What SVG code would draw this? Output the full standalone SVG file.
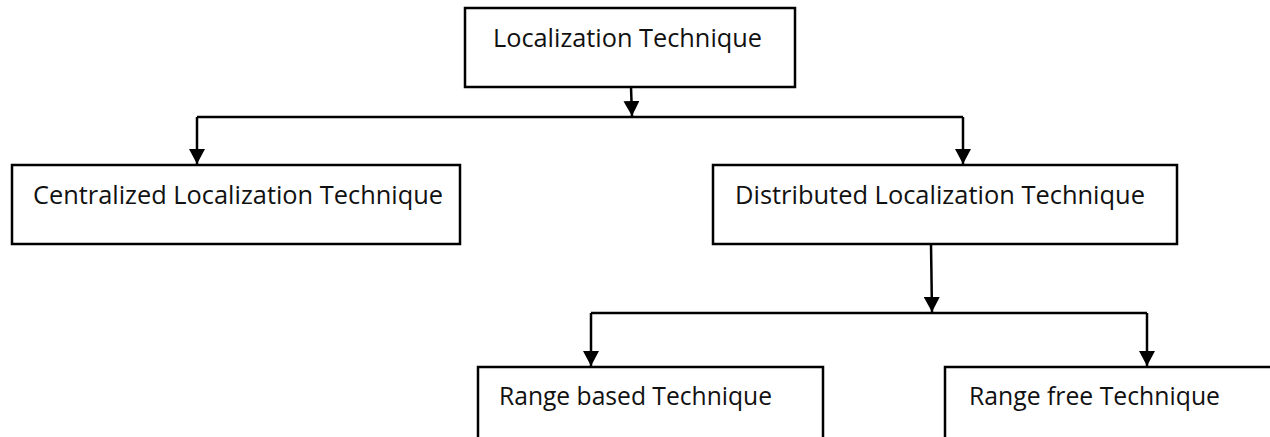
<svg xmlns="http://www.w3.org/2000/svg" width="1270" height="437" viewBox="0 0 1270 437">
  <style>
    .box { fill: #ffffff; stroke: #000000; stroke-width: 2.5; }
    .wire { fill: none; stroke: #000000; stroke-width: 2.5; }
    .label { font-family: "Open Sans", "Liberation Sans", sans-serif; font-size: 25px; fill: #111111; }
  </style>
  <defs>
    <!-- filled triangular head, tip at the end of the line -->
    <marker id="arrow" viewBox="0 0 15 16" refX="15" refY="8" markerWidth="15" markerHeight="16" markerUnits="userSpaceOnUse" orient="auto">
      <path d="M0,0 L15,8 L0,16 Z" fill="#000000"/>
    </marker>
  </defs>
  <rect width="1270" height="437" fill="#ffffff"/>

  <g id="node-root">
    <rect class="box" x="465" y="8" width="330" height="79"/>
    <text class="label" x="493" y="47" textLength="269" lengthAdjust="spacingAndGlyphs">Localization Technique</text>
  </g>

  <g id="node-centralized">
    <rect class="box" x="12" y="165" width="448" height="79"/>
    <text class="label" x="33" y="204" textLength="410" lengthAdjust="spacingAndGlyphs">Centralized Localization Technique</text>
  </g>

  <g id="node-distributed">
    <rect class="box" x="713" y="165" width="464" height="79"/>
    <text class="label" x="735" y="204" textLength="410" lengthAdjust="spacingAndGlyphs">Distributed Localization Technique</text>
  </g>

  <!-- the lower boxes run past the bottom edge of the canvas -->
  <g id="node-range-based">
    <rect class="box" x="478" y="367" width="345" height="100"/>
    <text class="label" x="499" y="405" textLength="273" lengthAdjust="spacingAndGlyphs">Range based Technique</text>
  </g>

  <g id="node-range-free">
    <rect class="box" x="945" y="367" width="360" height="100"/>
    <text class="label" x="969" y="405" textLength="251" lengthAdjust="spacingAndGlyphs">Range free Technique</text>
  </g>

  <g id="connectors">
    <!-- root down to the first bus -->
    <path class="wire" d="M631,87 L632,116" marker-end="url(#arrow)"/>
    <path class="wire" d="M197,117 L963,117"/>
    <path class="wire" d="M197,117 L197,164" marker-end="url(#arrow)"/>
    <path class="wire" d="M963,117 L963,164" marker-end="url(#arrow)"/>
    <!-- distributed down to the second bus -->
    <path class="wire" d="M931,244 L932,312" marker-end="url(#arrow)"/>
    <path class="wire" d="M591,313 L1147,313"/>
    <path class="wire" d="M591,313 L591,366" marker-end="url(#arrow)"/>
    <path class="wire" d="M1147,313 L1147,366" marker-end="url(#arrow)"/>
  </g>
</svg>
